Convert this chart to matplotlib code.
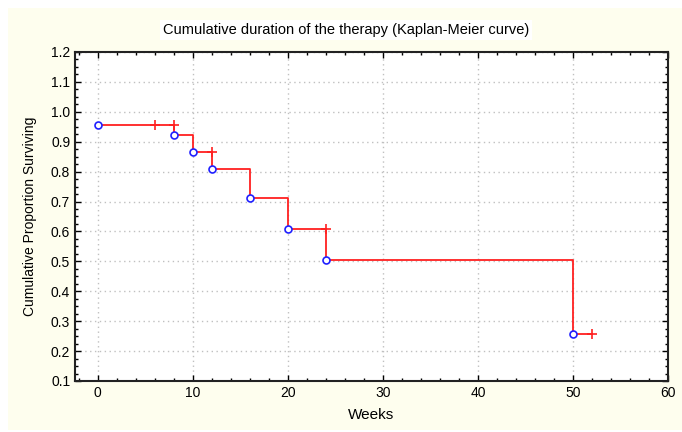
import numpy as np
import matplotlib.pyplot as plt
from matplotlib.ticker import MultipleLocator
from matplotlib.patches import Rectangle

# Kaplan-Meier estimate
weeks = [0, 8, 10, 12, 16, 20, 24, 50, 52]
surv = [0.956, 0.922, 0.866, 0.809, 0.712, 0.608, 0.504, 0.257, 0.257]
event_weeks = [0, 8, 10, 12, 16, 20, 24, 50]
event_surv = [0.956, 0.922, 0.866, 0.809, 0.712, 0.608, 0.504, 0.257]
cens_weeks = [6, 8, 12, 24, 52]
cens_surv = [0.956, 0.956, 0.866, 0.608, 0.257]

plt.rcParams['font.family'] = ['Liberation Sans Narrow', 'Liberation Sans', 'DejaVu Sans']

fig = plt.figure(figsize=(6.82, 4.32), dpi=100)
fig.patch.set_facecolor("white")
fig.patches.append(Rectangle((8 / 682, 2 / 432), 1, 1 - 10 / 432, transform=fig.transFigure,
                             facecolor="#fefeee", edgecolor="none", zorder=-10))

ax = fig.add_axes([75 / 682, 1 - 381 / 432, (668 - 75) / 682, (381 - 52) / 432])
ax.set_facecolor("white")

ax.step(weeks, surv, where="post", color="#ff2020", lw=1.3, zorder=3)
ax.plot(cens_weeks, cens_surv, ls="none", marker="+", ms=7, mew=1.2,
        color="#ff2020", zorder=4)
ax.plot(event_weeks, event_surv, ls="none", marker="o", ms=5, mew=1.2,
        mfc="white", mec="#2020ff", zorder=5)

ax.set_xlim(-2.4, 60)
ax.set_ylim(0.1, 1.2)
ax.xaxis.set_major_locator(MultipleLocator(10))
ax.xaxis.set_minor_locator(MultipleLocator(2))
ax.yaxis.set_major_locator(MultipleLocator(0.1))
ax.yaxis.set_minor_locator(MultipleLocator(0.025))
ax.yaxis.set_major_formatter(plt.FuncFormatter(lambda v, p: f"{v:.1f}"))

ax.tick_params(which="both", direction="in", top=True, right=True,
               labelsize=10, color="black")
ax.tick_params(which="major", length=4, width=1)
ax.tick_params(which="minor", length=2.5, width=1)
for s in ax.spines.values():
    s.set_linewidth(1.5)
    s.set_color("#222222")

ax.grid(True, which="major", ls=(0, (1, 2.5)), color="#c0c0c0", lw=1)
ax.set_axisbelow(True)

ax.set_xlabel("Weeks", fontsize=11, labelpad=6)
ax.set_ylabel("Cumulative Proportion Surviving", fontsize=10, labelpad=10)
fig.text(0.507, 1 - 30 / 432, "Cumulative duration of the therapy (Kaplan-Meier curve)",
         ha="center", va="center", fontsize=10.5,
         bbox=dict(facecolor="white", edgecolor="none", pad=2))

fig.savefig("out.png", dpi=100)
